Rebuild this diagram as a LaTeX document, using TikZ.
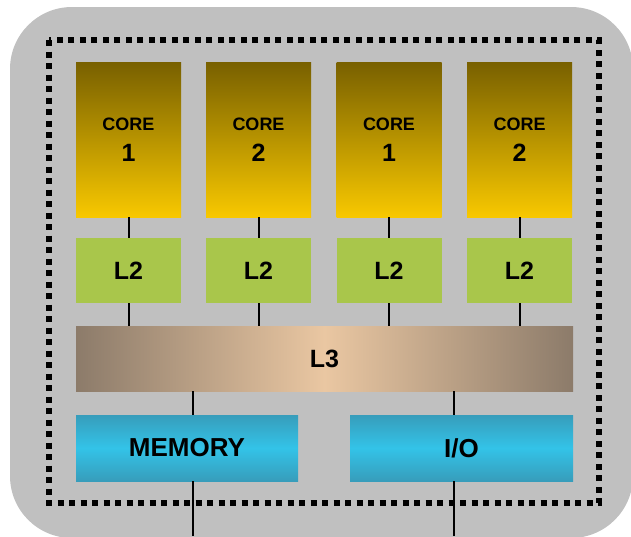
\documentclass[tikz,border=0pt]{standalone}
\usepackage{fontspec}
\setmainfont{Liberation Sans}
\definecolor{bggray}{HTML}{C0C0C0}
\definecolor{coreTop}{HTML}{786000}
\definecolor{coreBot}{HTML}{F8C800}
\definecolor{ltwo}{HTML}{A9C64B}
\definecolor{lthreeEdge}{HTML}{8C7B6A}
\definecolor{lthreeMid}{HTML}{EAC7A2}
\definecolor{cyanEdge}{HTML}{379DBB}
\definecolor{cyanMid}{HTML}{33C3E8}
\begin{document}
\begin{tikzpicture}[x=1pt,y=-1pt,
  corebox/.style={minimum width=105pt,minimum height=155pt,inner sep=0pt,top color=coreTop,bottom color=coreBot},
  ltwobox/.style={minimum width=105pt,minimum height=65pt,inner sep=0pt,fill=ltwo,font=\fontsize{25}{25}\selectfont\bfseries},
  lthreebox/.style={minimum width=497pt,minimum height=65pt,inner sep=0pt,left color=lthreeEdge,right color=lthreeEdge,middle color=lthreeMid,font=\fontsize{25}{25}\selectfont\bfseries},
  cyanbox/.style={minimum height=66pt,inner sep=0pt,top color=cyanEdge,bottom color=cyanEdge,middle color=cyanMid,font=\fontsize{26}{26}\selectfont\bfseries},
  coretxt/.style={font=\fontsize{18}{18}\selectfont\bfseries,inner sep=0pt},
  corenum/.style={font=\fontsize{25}{25}\selectfont\bfseries,inner sep=0pt},
  wire/.style={line width=2pt,black}
]
\useasboundingbox (0,0) rectangle (631,536);
\fill[bggray,rounded corners=62pt] (10,7) rectangle (633,538);
\draw[line width=5.5pt,dash pattern=on 6pt off 5.5pt] (49,40) rectangle (599,503);

\foreach \i/\x/\n in {1/128.5/1,2/258.5/2,3/389/1,4/519.5/2}{
  \node[corebox] (core\i) at (\x,139.5) {};
  \node[coretxt] (core\i t) at (\x,124.5) {CORE};
  \node[corenum] (core\i n) at (\x,153) {\n};
  \node[ltwobox] (ltwo\i) at (\x,270.5) {L2};
}
\node[lthreebox] (lthree) at (324.5,358.5) {L3};
\node[cyanbox,minimum width=222pt] (mem) at (187,448) {MEMORY};
\node[cyanbox,minimum width=223pt] (io) at (461.5,448) {I/O};
\coordinate (memout) at (193,536);
\coordinate (ioout) at (454,536);

\foreach \i in {1,...,4}{
  \draw[wire] (core\i.south) -- (ltwo\i.north);
  \draw[wire] (ltwo\i.south) -- (ltwo\i.south |- lthree.north);
}
\draw[wire] (memout |- lthree.south) -- (memout |- mem.north);
\draw[wire] (memout |- mem.south) -- (memout);
\draw[wire] (ioout |- lthree.south) -- (ioout |- io.north);
\draw[wire] (ioout |- io.south) -- (ioout);
\end{tikzpicture}
\end{document}
